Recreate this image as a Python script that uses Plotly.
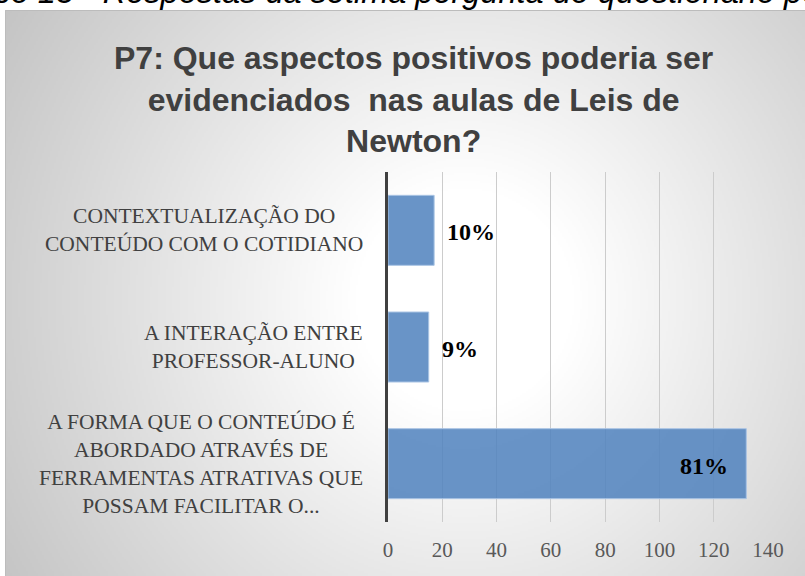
import numpy as np, zlib, struct, base64
import plotly.graph_objects as go

# ---- data ----
categories = [
    "A FORMA QUE O CONTEÚDO É<br>ABORDADO ATRAVÉS DE<br>FERRAMENTAS ATRATIVAS QUE<br>POSSAM FACILITAR O...",
    "A INTERAÇÃO ENTRE<br>PROFESSOR-ALUNO",
    "CONTEXTUALIZAÇÃO DO<br>CONTEÚDO COM O COTIDIANO",
]
values = [132, 15, 17]
percent_labels = ["81%", "9%", "10%"]
x_ticks = [0, 20, 40, 60, 80, 100, 120, 140]
title_text = "P7: Que aspectos positivos poderia ser<br>evidenciados  nas aulas de Leis de<br>Newton?"
caption_text = "Gráfico 13 - Respostas da sétima pergunta do questionário pós-teste"

# ---- layout geometry (pixels) ----
FW, FH = 805, 576
L, R, T, B = 388, 768, 172, 522
PW, PH = R - L, B - T

def px(x):
    return (x - L) / PW

def py(y):
    return (B - y) / PH

# ---- radial gradient background as PNG ----
W, H = 400, 283
cx0, cy0, cw, ch = 5, 10, 800, 566
xs = cx0 + (np.arange(W) + 0.5) * cw / W
ys = cy0 + (np.arange(H) + 0.5) * ch / H
X, Y = np.meshgrid(xs, ys)
d = np.sqrt(((X - 465) / 440) ** 2 + ((Y - 300) / 450) ** 2)
t = np.clip((d - 0.25) / 0.75, 0, None)
g = np.clip(255 - 45 * t, 190, 255).astype(np.uint8)
rgb = np.stack([g, g, g], -1)
raw = b"".join(b"\x00" + rgb[i].tobytes() for i in range(H))

def chunk(tag, data):
    return struct.pack(">I", len(data)) + tag + data + struct.pack(">I", zlib.crc32(tag + data) & 0xFFFFFFFF)

png = (b"\x89PNG\r\n\x1a\n" + chunk(b"IHDR", struct.pack(">IIBBBBB", W, H, 8, 2, 0, 0, 0))
       + chunk(b"IDAT", zlib.compress(raw, 9)) + chunk(b"IEND", b""))
src = "data:image/png;base64," + base64.b64encode(png).decode()

fig = go.Figure()
fig.add_trace(go.Bar(
    x=values, y=categories, orientation="h",
    marker=dict(color="rgba(79,129,189,0.85)", line=dict(color="rgba(170,196,228,1)", width=1)),
    hoverinfo="skip",
))

annotations = []
# category labels
for c in categories:
    annotations.append(dict(
        x=px(365), xref="paper", y=c, yref="y", text=c, showarrow=False,
        xanchor="right", yanchor="middle", align="center",
        font=dict(family="Liberation Serif", size=21.5, color="#404040"),
    ))
# value labels
for c, v, lab in zip(categories, values, percent_labels):
    inside = v > 50
    annotations.append(dict(
        x=v, xref="x", y=c, yref="y", text="<b>%s</b>" % lab, showarrow=False,
        xanchor="right" if inside else "left", yanchor="middle",
        xshift=-16 if inside else 11, yshift=-2,
        font=dict(family="Liberation Serif", size=24, color="#000000"),
    ))
# title
annotations.append(dict(
    x=px(413), xref="paper", y=py(100), yref="paper", text="<b>%s</b>" % title_text,
    showarrow=False, xanchor="center", yanchor="middle", align="center",
    font=dict(family="Liberation Sans, Arial", size=32, color="#404040"),
))
# cropped caption at top
annotations.append(dict(
    x=px(-77), xref="paper", y=py(11), yref="paper", text="<i>%s</i>" % caption_text,
    showarrow=False, xanchor="left", yanchor="bottom", borderpad=0,
    font=dict(family="Liberation Sans, Arial", size=32.5, color="#000000"),
))

fig.update_layout(
    width=FW, height=FH,
    margin=dict(l=L, r=FW - R, t=T, b=FH - B, pad=0),
    paper_bgcolor="white", plot_bgcolor="rgba(0,0,0,0)",
    showlegend=False, bargap=0.4,
    annotations=annotations,
    images=[dict(source=src, xref="paper", yref="paper", x=px(cx0), y=py(cy0),
                 sizex=cw / PW, sizey=ch / PH, xanchor="left", yanchor="top",
                 sizing="stretch", layer="below")],
    shapes=[dict(type="rect", xref="paper", yref="paper", x0=px(5.5), y0=py(600),
                 x1=px(900), y1=py(10.5), line=dict(color="#bcbcbc", width=1),
                 fillcolor="rgba(0,0,0,0)", layer="above")],
    xaxis=dict(range=[0, 140], tickvals=x_ticks, showgrid=True, gridcolor="#cccccc", gridwidth=1,
               zeroline=False, showline=False, ticks="outside", ticklen=9,
               tickcolor="rgba(0,0,0,0)",
               tickfont=dict(family="Liberation Serif", size=21, color="#595959")),
    yaxis=dict(showticklabels=False, showgrid=False, zeroline=False, showline=True,
               linecolor="#404040", linewidth=3, ticks=""),
)

fig.write_html("out.html", config={"displayModeBar": False},
               post_script="document.body.style.margin='0';")
